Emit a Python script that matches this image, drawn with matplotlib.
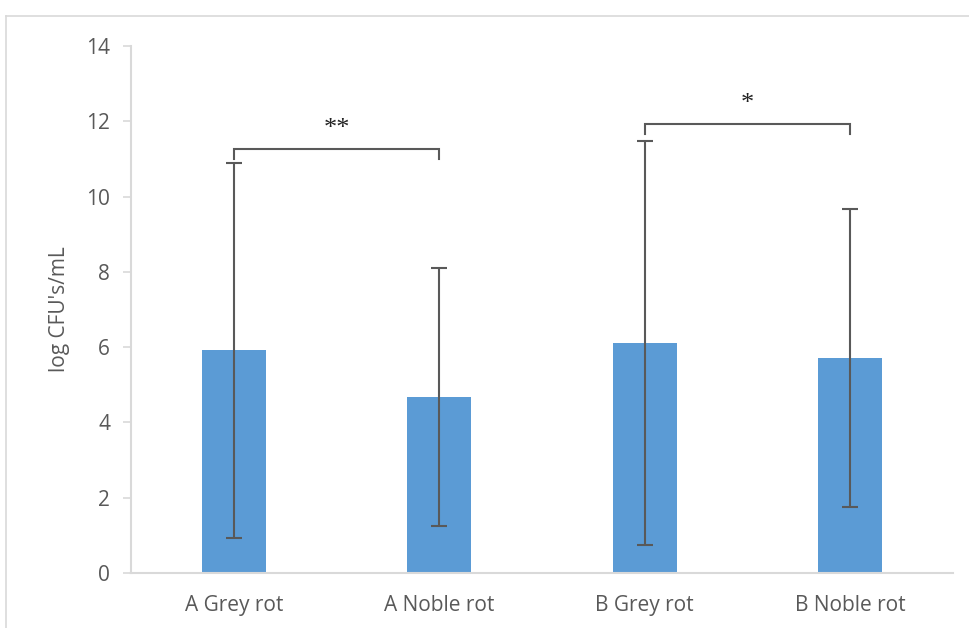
import matplotlib.pyplot as plt
from matplotlib.lines import Line2D

# Mean counts per sample group with standard deviation
groups = ["A Grey rot", "A Noble rot", "B Grey rot", "B Noble rot"]
means = [5.92, 4.67, 6.11, 5.71]
sds = [4.98, 3.43, 5.37, 3.97]

# Significance brackets: (left group, right group, bracket height, label)
brackets = [(0, 1, 11.26, "**"), (2, 3, 11.93, "*")]

grey = "#595959"
axis_grey = "#d9d9d9"

plt.rcParams["font.family"] = ["Open Sans", "DejaVu Sans"]

fig = plt.figure(figsize=(9.7, 6.28), dpi=100)
ax = fig.add_axes([0.1351, 0.0876, 0.8474, 0.8392])

x = list(range(len(groups)))
ax.bar(x, means, width=0.31, color="#5b9bd5", zorder=2)
ax.errorbar(x, means, yerr=sds, fmt="none", ecolor=grey, elinewidth=1.5,
            capsize=6, capthick=1.5, zorder=3)

for i, j, h, label in brackets:
    ax.plot([i, i, j, j], [h - 0.27, h, h, h - 0.27], color=grey, lw=1.5,
            solid_joinstyle="miter", zorder=4)
    ax.text((i + j) / 2, h + 0.53, label, ha="center", va="center",
            fontsize=19, family="Liberation Serif", color="#222222")

ax.set_xlim(-0.5, 3.5)
ax.set_ylim(0, 14)
ax.set_yticks(range(0, 15, 2))
ax.set_xticks(x)
ax.set_xticklabels(groups)
ax.set_ylabel("log CFU's/mL", fontsize=15, color=grey, labelpad=12)

for side in ["top", "right"]:
    ax.spines[side].set_visible(False)
for side in ["left", "bottom"]:
    ax.spines[side].set_color(axis_grey)
    ax.spines[side].set_linewidth(1.5)
ax.tick_params(axis="y", colors=axis_grey, labelcolor=grey, labelsize=15,
               length=6, width=1.2, pad=9)
ax.tick_params(axis="x", length=0, labelcolor=grey, labelsize=15, pad=16)

# chart area border
fig.add_artist(Line2D([6 / 970, 6 / 970], [0, 1 - 16 / 628], color=axis_grey,
                      lw=1.2, transform=fig.transFigure))
fig.add_artist(Line2D([6 / 970, 1], [1 - 16 / 628, 1 - 16 / 628], color=axis_grey,
                      lw=1.2, transform=fig.transFigure))

fig.savefig("out.png", dpi=100)
